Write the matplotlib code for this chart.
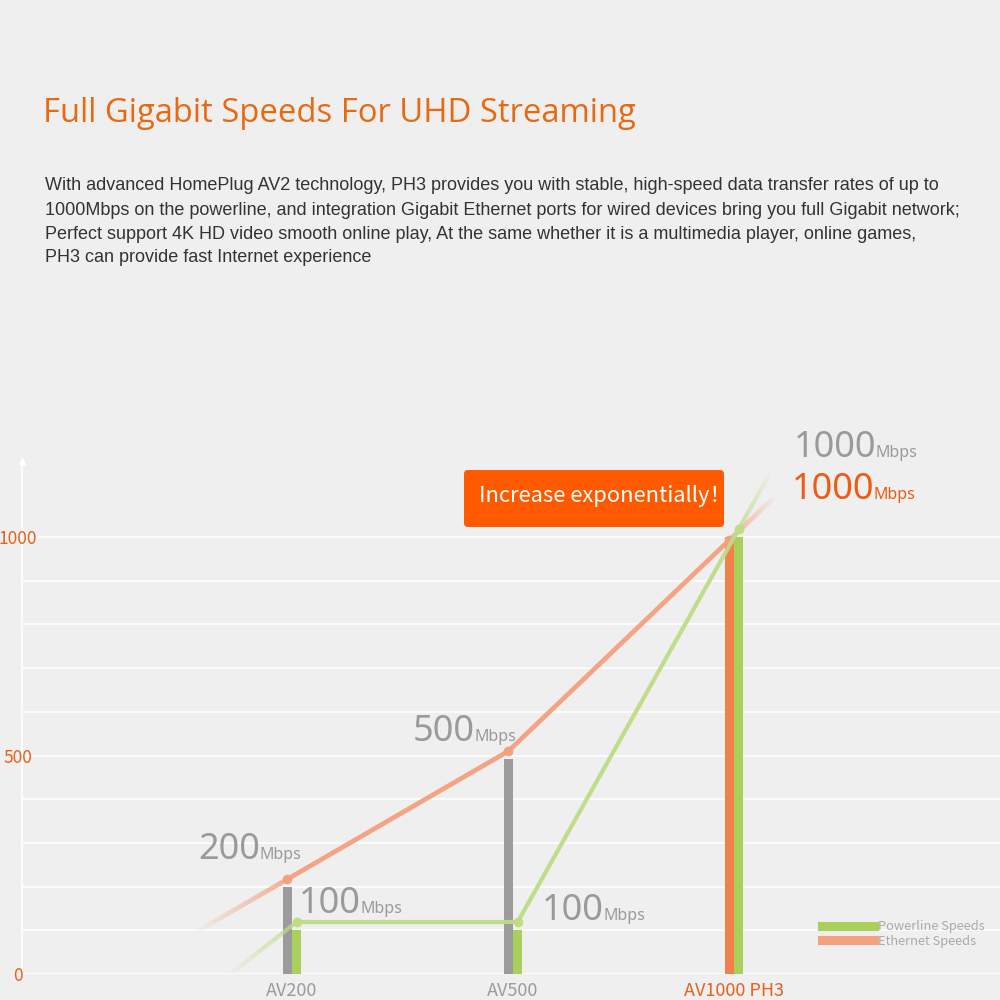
import matplotlib
matplotlib.use("Agg")
import matplotlib.pyplot as plt
import numpy as np
from matplotlib.collections import LineCollection
from matplotlib.lines import Line2D
from matplotlib.patches import FancyBboxPatch

# data
categories = ["AV200", "AV500", "AV1000 PH3"]
ethernet_bars = [200, 492, 1000]     # grey / orange bars
powerline_bars = [100, 100, 1000]    # green bars
ethernet_line = [217, 510, 993]
powerline_line = [119, 119, 1018]
speed_labels = ["200", "100", "500", "100", "1000", "1000"]
yticks = [0, 500, 1000]

BG = "#efefef"
ORANGE_TXT = "#e8601c"
GREY_TXT = "#9b9b9b"
FONT = ["Noto Sans CJK SC", "DejaVu Sans"]
LIGHT = ["Noto Sans", "DejaVu Sans"]

fig = plt.figure(figsize=(10, 10), dpi=100)
fig.patch.set_facecolor(BG)
ax = fig.add_axes([0.022, 0.026, 0.978, 0.513])
ax.set_facecolor(BG)
ax.set_xlim(-1.222, 3.204)
ax.set_ylim(0, 1174)

for s in ["top", "right", "bottom"]:
    ax.spines[s].set_visible(False)
ax.spines["left"].set_color("white")
ax.spines["left"].set_linewidth(1.2)
ax.spines["left"].set_zorder(0)
ax.plot(0, 1, marker="^", ms=4, color="white", transform=ax.transAxes, clip_on=False, zorder=0)

for v in range(0, 1001, 100):
    ax.axhline(v, color="white", lw=1.1, zorder=0)

x = np.arange(len(categories))
off = 0.021
w = 0.041
bar_cols = ["#9b9b9b", "#9b9b9b", "#f2804b"]
ax.bar(x - off, ethernet_bars, width=w, color=bar_cols, zorder=2)
ax.bar(x + off, powerline_bars, width=w, color="#a9d05a", zorder=2)


def fade(p0, p1, color, lw, a0=0.85, n=40):
    xs = np.linspace(p0[0], p1[0], n + 1)
    ys = np.linspace(p0[1], p1[1], n + 1)
    segs = [[(xs[i], ys[i]), (xs[i + 1], ys[i + 1])] for i in range(n)]
    cols = [matplotlib.colors.to_rgba(color, a0 * (1 - i / n)) for i in range(n)]
    ax.add_collection(LineCollection(segs, colors=cols, linewidths=lw, zorder=3,
                                     capstyle="butt"))


eth_col = "#f5a07e"
pwr_col = "#bedc86"
ex = x - off
px = x + off
ax.plot(ex, ethernet_line, color=eth_col, lw=3.4, marker="o", ms=6, zorder=3, alpha=0.95)
ax.plot(px, powerline_line, color=pwr_col, lw=3.0, marker="o", ms=6, zorder=4, alpha=0.95)

# faded tails continue the lines
s0 = (ethernet_line[1] - ethernet_line[0]) / (ex[1] - ex[0])
fade((ex[0], ethernet_line[0]), (ex[0] - 0.42, ethernet_line[0] - 0.42 * s0), eth_col, 3.4)
s1 = (ethernet_line[2] - ethernet_line[1]) / (ex[2] - ex[1])
fade((ex[2], ethernet_line[2]), (ex[2] + 0.21, ethernet_line[2] + 0.21 * s1), eth_col, 3.4)
fade((px[0], powerline_line[0]), (px[0] - 0.30, 0), pwr_col, 3.0)
s2 = (powerline_line[2] - powerline_line[1]) / (px[2] - px[1])
fade((px[2], powerline_line[2]), (px[2] + 0.145, powerline_line[2] + 0.145 * s2), pwr_col, 3.0)

# axis labels
ax.set_xticks(x)
ax.set_xticklabels(categories, fontsize=13, family=FONT)
for lab, c in zip(ax.get_xticklabels(), [GREY_TXT, GREY_TXT, ORANGE_TXT]):
    lab.set_color(c)
ax.tick_params(axis="x", length=0, pad=6)
ax.set_yticks(yticks)
ax.set_yticklabels([str(v) for v in yticks], fontsize=12.5, family=FONT, color=ORANGE_TXT,
                   ha="center")
ax.tick_params(axis="y", length=0, pad=3)

# speed labels: big number + small "Mbps" on the same baseline
fig.canvas.draw()
renderer = fig.canvas.get_renderer()
label_pos = [(-0.425, 264), (0.032, 139), (0.548, 534), (1.131, 123), (2.271, 1183), (2.262, 1087)]
label_cols = ["#9a9a9a"] * 5 + ["#f05a14"]
for txt, (lx, ly), c in zip(speed_labels, label_pos, label_cols):
    t = ax.text(lx, ly, txt, fontsize=26, color=c, family=LIGHT, fontweight=300,
                ha="left", va="baseline", clip_on=False, zorder=5)
    wpx = t.get_window_extent(renderer).width
    ax.annotate("Mbps", xy=(lx, ly), xycoords="data", xytext=(wpx * 72 / 100 - 0.5, 0),
                textcoords="offset points", fontsize=11.5, color=c, family=LIGHT,
                fontweight=300, va="baseline", ha="left", annotation_clip=False)

# callout
fig.patches.append(FancyBboxPatch((0.464, 0.473), 0.26, 0.057,
                                  boxstyle="round,pad=0,rounding_size=0.004",
                                  transform=fig.transFigure, facecolor="#ff5a00",
                                  edgecolor="none", zorder=1))
fig.text(0.605, 0.504, "Increase exponentially！", fontsize=15.8, color="white",
         family=FONT, ha="center", va="center", zorder=2)

# legend
handles = [Line2D([], [], color="#a9d05a", lw=6.5),
           Line2D([], [], color="#f5a07e", lw=6.5)]
leg = fig.legend(handles, ["Powerline Speeds", "Ethernet Speeds"], loc="upper left",
                 bbox_to_anchor=(0.816, 0.086), frameon=False, handlelength=4.0,
                 handletextpad=0.3, labelspacing=0.1, borderpad=0,
                 prop={"family": FONT, "size": 9.3})
for t in leg.get_texts():
    t.set_color("#aaaaaa")

# header text
fig.text(0.043, 0.887, "Full Gigabit Speeds For UHD Streaming", fontsize=23.6,
         color="#e8690f", family=["Open Sans", "DejaVu Sans"], va="center", ha="left")
para = [
    "With advanced HomePlug AV2 technology, PH3 provides you with stable, high-speed data transfer rates of up to",
    "1000Mbps on the powerline, and integration Gigabit Ethernet ports for wired devices bring you full Gigabit network;",
    "Perfect support 4K HD video smooth online play, At the same whether it is a multimedia player, online games,",
    "PH3 can provide fast Internet experience",
]
for i, line in enumerate(para):
    fig.text(0.045, 0.814 - i * 0.024, line, fontsize=12.95, color="#333333",
             family=["Liberation Sans", "DejaVu Sans"], va="center", ha="left")

fig.savefig("out.png", dpi=100, facecolor=BG)
